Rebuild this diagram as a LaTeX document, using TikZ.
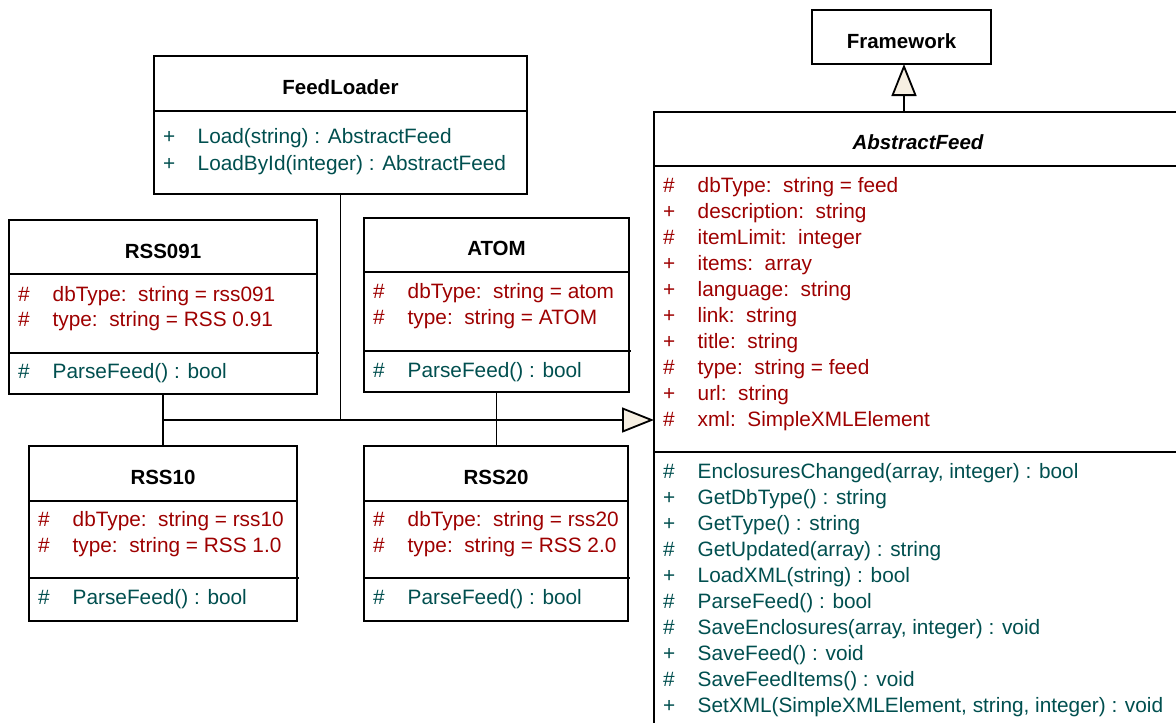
\documentclass[tikz,border=0pt]{standalone}
\usepackage{fontspec}
\setmainfont{Liberation Sans}
\usetikzlibrary{arrows.meta}
\definecolor{attrc}{RGB}{158,0,0}
\definecolor{opc}{RGB}{0,79,79}
\definecolor{trifill}{RGB}{246,239,226}
\newcommand\umlmem[2]{\makebox[34.5pt][l]{#1}#2}
\begin{document}
\begin{tikzpicture}[x=1pt,y=-1pt,
  boxline/.style={line width=1.9pt},
  classbox/.style={draw, line width=1.9pt, rectangle, inner sep=0pt, outer sep=0pt, anchor=north west, fill=white},
  ctitle/.style={font=\fontsize{20.5}{24}\selectfont\bfseries, anchor=base, inner sep=0pt},
  member/.style={font=\fontsize{20.8}{26}\selectfont, anchor=base west, inner sep=0pt},
  attr/.style={member, text=attrc},
  oper/.style={member, text=opc},
  conn/.style={line width=1.8pt},
  gen/.style={conn, -{Triangle[length=32pt,width=25pt,fill=trifill]}},
]
\useasboundingbox (0,0) rectangle (1176,723);
\clip (0,0) rectangle (1176,723);
\fill[white] (0,0) rectangle (1176,723);

% class boxes
\node[classbox, minimum width=179pt, minimum height=54pt] (fw) at (812,10) {};
\node[classbox, minimum width=528pt, minimum height=628pt] (af) at (654,112) {};
\node[classbox, minimum width=373pt, minimum height=138pt] (fl) at (154,56) {};
\node[classbox, minimum width=308pt, minimum height=174pt] (rss091) at (9,220) {};
\node[classbox, minimum width=265pt, minimum height=174pt] (atom) at (364,218) {};
\node[classbox, minimum width=268pt, minimum height=175pt] (rss10) at (29,446) {};
\node[classbox, minimum width=264pt, minimum height=175pt] (rss20) at (364,446) {};

% compartment separators
\draw[boxline] (654,166) -- (1182,166);
\draw[boxline] (654,452) -- (1182,452);
\draw[boxline] (154,111) -- (527,111);
\draw[boxline] (9,274) -- (317,274);
\draw[boxline] (9,353) -- (319,353);
\draw[boxline] (364,272) -- (629,272);
\draw[boxline] (364,351) -- (631,351);
\draw[boxline] (29,501) -- (297,501);
\draw[boxline] (29,578) -- (299,578);
\draw[boxline] (364,501) -- (628,501);
\draw[boxline] (364,578) -- (630,578);

% titles
\node[ctitle] (fwt) at (901.5,48.5) {Framework};
\node[ctitle, font=\fontsize{20.5}{24}\selectfont\bfseries\itshape] (aft) at (918,149.5) {AbstractFeed};
\node[ctitle] (flt) at (340.5,94.5) {FeedLoader};
\node[ctitle] (rss091t) at (163,258.5) {RSS091};
\node[ctitle] (atomt) at (496.5,255.5) {ATOM};
\node[ctitle] (rss10t) at (163,484.5) {RSS10};
\node[ctitle] (rss20t) at (496,484.5) {RSS20};

% FeedLoader
\node[oper] (flo1) at (163,143.5) {\umlmem{+}{Load(string) : AbstractFeed}};
\node[oper] (flo2) at (163,170.5) {\umlmem{+}{LoadById(integer) : AbstractFeed}};

% RSS091
\node[attr] (r91a1) at (18,301.5) {\umlmem{\#}{dbType:\ \ string = rss091}};
\node[attr] (r91a2) at (18,326.5) {\umlmem{\#}{type:\ \ string = RSS 0.91}};
\node[oper] (r91o1) at (18,378.5) {\umlmem{\#}{ParseFeed() : bool}};

% ATOM
\node[attr] (ata1) at (373,298.5) {\umlmem{\#}{dbType:\ \ string = atom}};
\node[attr] (ata2) at (373,324.5) {\umlmem{\#}{type:\ \ string = ATOM}};
\node[oper] (ato1) at (373,377.5) {\umlmem{\#}{ParseFeed() : bool}};

% RSS10
\node[attr] (r10a1) at (38,526.5) {\umlmem{\#}{dbType:\ \ string = rss10}};
\node[attr] (r10a2) at (38,552.5) {\umlmem{\#}{type:\ \ string = RSS 1.0}};
\node[oper] (r10o1) at (38,604.5) {\umlmem{\#}{ParseFeed() : bool}};

% RSS20
\node[attr] (r20a1) at (373,526.5) {\umlmem{\#}{dbType:\ \ string = rss20}};
\node[attr] (r20a2) at (373,552.5) {\umlmem{\#}{type:\ \ string = RSS 2.0}};
\node[oper] (r20o1) at (373,604.5) {\umlmem{\#}{ParseFeed() : bool}};

% AbstractFeed attributes
\foreach \s/\t [count=\i] in {
  \#/{dbType:\ \ string = feed},
  +/{description:\ \ string},
  \#/{itemLimit:\ \ integer},
  +/{items:\ \ array},
  +/{language:\ \ string},
  +/{link:\ \ string},
  +/{title:\ \ string},
  \#/{type:\ \ string = feed},
  +/{url:\ \ string},
  \#/{xml:\ \ SimpleXMLElement}}
  \node[attr] (afa\i) at (663,{192.5+26*(\i-1)}) {\umlmem{\s}{\t}};

% AbstractFeed operations
\foreach \s/\t [count=\i] in {
  \#/{EnclosuresChanged(array, integer) : bool},
  +/{GetDbType() : string},
  +/{GetType() : string},
  \#/{GetUpdated(array) : string},
  +/{LoadXML(string) : bool},
  \#/{ParseFeed() : bool},
  \#/{SaveEnclosures(array, integer) : void},
  +/{SaveFeed() : void},
  \#/{SaveFeedItems() : void},
  +/{SetXML(SimpleXMLElement, string, integer) : void}}
  \node[oper] (afo\i) at (663,{478.5+26*(\i-1)}) {\umlmem{\s}{\t}};

% connectors
\coordinate (fx) at (904,0);
\coordinate (j) at (163,420);
\draw[gen] (af.north -| fx) -- (fw.south -| fx);
\draw[conn] (rss091.south) -- (rss10.north);
\draw[conn] (atom.south) -- (atom.south |- rss20.north);
\draw[conn] (fl.south) -- (fl.south |- j);
\draw[gen] (j) -- (j -| af.west);
\end{tikzpicture}
\end{document}
